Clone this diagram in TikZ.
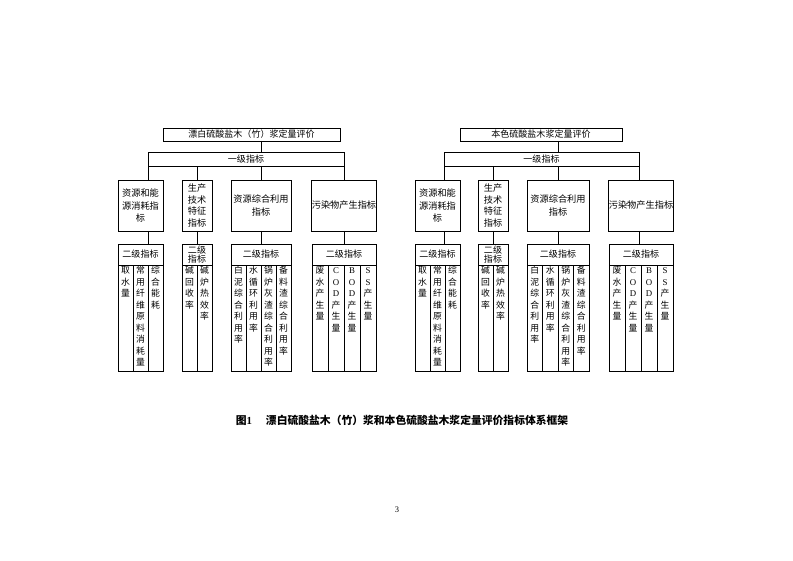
\documentclass[tikz,border=0pt]{standalone}
\usepackage{fontspec}
\setmainfont{Liberation Serif}
\newfontfamily\cjk{Noto Sans CJK SC}
\newfontfamily\lat{Liberation Serif}
\usepackage{tikz}
\usetikzlibrary{positioning}

\newdimen\pxu \pxu=0.03745cm
% one column of the second level, text stacked from the top
\newcommand{\vcol}[1]{\parbox[t][106\pxu][t]{12\pxu}{\centering\vspace*{0.5\pxu}\rule{0pt}{8.6pt}#1}}

\begin{document}
\begin{tikzpicture}[%
  x=0.03745cm, y=-0.03745cm,
  every node/.style={align=center, inner sep=0pt, outer sep=0pt},
  titlebox/.style={draw, line width=0.8pt, minimum height=13\pxu, font=\cjk\fontsize{9.6}{11}\selectfont},
  lvbox/.style={draw, line width=0.8pt, minimum height=14\pxu, font=\cjk\fontsize{9.6}{11}\selectfont},
  catbox/.style={draw, line width=0.8pt, minimum height=51\pxu, font=\cjk\fontsize{9.8}{13.2}\selectfont},
  hdbox/.style={draw, line width=0.8pt, minimum height=21\pxu, font=\cjk\fontsize{9.6}{10}\selectfont},
  colbox/.style={draw, line width=0.8pt, anchor=north, font=\cjk\fontsize{9.4}{12.3}\selectfont},
  link/.style={line width=0.8pt}
]
\useasboundingbox (0,0) rectangle (793,561);

% ---------- left: bleached pulp
\node[titlebox, minimum width=177\pxu] (t1) at (251.5,134.5) {漂白硫酸盐木（竹）浆定量评价};
\node[lvbox, minimum width=196\pxu] (l1) at (246,159) {一级指标};

\node[catbox, minimum width=45\pxu] (a11) at (140.5,205.5) {资源和能\\源消耗指\\标};
\node[catbox, minimum width=30\pxu, font=\cjk\fontsize{9.8}{12.4}\selectfont] (a12) at (197,205.5) {生产\\技术\\特征\\指标};
\node[catbox, minimum width=60\pxu] (a13) at (261,205.5) {资源综合利用\\指标};
\node[catbox, minimum width=64\pxu] (a14) at (344,205.5) {污染物产生指标};

\node[hdbox, minimum width=45\pxu] (b11) at (140.5,254.5) {二级指标};
\node[hdbox, minimum width=30\pxu, font=\cjk\fontsize{9.6}{10.4}\selectfont] (b12) at (197,254.5) {二级\\指标};
\node[hdbox, minimum width=60\pxu] (b13) at (261,254.5) {二级指标};
\node[hdbox, minimum width=64\pxu] (b14) at (344,254.5) {二级指标};

\node[colbox, minimum width=15\pxu] (c111) at (125.5,265) {\vcol{取\\水\\量}};
\node[colbox, minimum width=15\pxu] (c112) at (140.5,265) {\vcol{常\\用\\纤\\维\\原\\料\\消\\耗\\量}};
\node[colbox, minimum width=15\pxu] (c113) at (155.5,265) {\vcol{综\\合\\能\\耗}};
\node[colbox, minimum width=15\pxu] (c121) at (189.5,265) {\vcol{碱\\回\\收\\率}};
\node[colbox, minimum width=15\pxu] (c122) at (204.5,265) {\vcol{碱\\炉\\热\\效\\率}};
\node[colbox, minimum width=15\pxu] (c131) at (238.5,265) {\vcol{白\\泥\\综\\合\\利\\用\\率}};
\node[colbox, minimum width=15\pxu] (c132) at (253.5,265) {\vcol{水\\循\\环\\利\\用\\率}};
\node[colbox, minimum width=15\pxu] (c133) at (268.5,265) {\vcol{锅\\炉\\灰\\渣\\综\\合\\利\\用\\率}};
\node[colbox, minimum width=15\pxu] (c134) at (283.5,265) {\vcol{备\\料\\渣\\综\\合\\利\\用\\率}};
\node[colbox, minimum width=16\pxu] (c141) at (320,265) {\vcol{废\\水\\产\\生\\量}};
\node[colbox, minimum width=16\pxu] (c142) at (336,265) {\vcol{{\lat C}\\{\lat O}\\{\lat D}\\产\\生\\量}};
\node[colbox, minimum width=16\pxu] (c143) at (352,265) {\vcol{{\lat B}\\{\lat O}\\{\lat D}\\产\\生\\量}};
\node[colbox, minimum width=16\pxu] (c144) at (368,265) {\vcol{{\lat S}\\{\lat S}\\产\\生\\量}};

\draw[link] (t1.south -| a13.north) -- (l1.north -| a13.north);
\draw[link] (l1.south west) -- (l1.south west |- a11.north);
\draw[link] (a12.north) -- (a12.north |- l1.south);
\draw[link] (a13.north) -- (a13.north |- l1.south);
\draw[link] (l1.south east) -- (l1.south east |- a14.north);
\draw[link] (a11.south -| l1.west) -- (b11.north -| l1.west);
\draw[link] (a12.south) -- (b12.north);
\draw[link] (a13.south) -- (b13.north);
\draw[link] (a14.south -| l1.east) -- (b14.north -| l1.east);

% ---------- right: unbleached pulp
\node[titlebox, minimum width=162\pxu] (t2) at (541,134.5) {本色硫酸盐木浆定量评价};
\node[lvbox, minimum width=195\pxu] (l2) at (541.5,159) {一级指标};

\node[catbox, minimum width=45\pxu] (a21) at (437.5,205.5) {资源和能\\源消耗指\\标};
\node[catbox, minimum width=30\pxu, font=\cjk\fontsize{9.8}{12.4}\selectfont] (a22) at (493,205.5) {生产\\技术\\特征\\指标};
\node[catbox, minimum width=62\pxu] (a23) at (558,205.5) {资源综合利用\\指标};
\node[catbox, minimum width=64\pxu] (a24) at (641,205.5) {污染物产生指标};

\node[hdbox, minimum width=45\pxu] (b21) at (437.5,254.5) {二级指标};
\node[hdbox, minimum width=30\pxu, font=\cjk\fontsize{9.6}{10.4}\selectfont] (b22) at (493,254.5) {二级\\指标};
\node[hdbox, minimum width=62\pxu] (b23) at (558,254.5) {二级指标};
\node[hdbox, minimum width=64\pxu] (b24) at (641,254.5) {二级指标};

\node[colbox, minimum width=15\pxu] (c211) at (422.5,265) {\vcol{取\\水\\量}};
\node[colbox, minimum width=15\pxu] (c212) at (437.5,265) {\vcol{常\\用\\纤\\维\\原\\料\\消\\耗\\量}};
\node[colbox, minimum width=15\pxu] (c213) at (452.5,265) {\vcol{综\\合\\能\\耗}};
\node[colbox, minimum width=15\pxu] (c221) at (485.5,265) {\vcol{碱\\回\\收\\率}};
\node[colbox, minimum width=15\pxu] (c222) at (500.5,265) {\vcol{碱\\炉\\热\\效\\率}};
\node[colbox, minimum width=15.5\pxu] (c231) at (534.75,265) {\vcol{白\\泥\\综\\合\\利\\用\\率}};
\node[colbox, minimum width=15.5\pxu] (c232) at (550.25,265) {\vcol{水\\循\\环\\利\\用\\率}};
\node[colbox, minimum width=15.5\pxu] (c233) at (565.75,265) {\vcol{锅\\炉\\灰\\渣\\综\\合\\利\\用\\率}};
\node[colbox, minimum width=15.5\pxu] (c234) at (581.25,265) {\vcol{备\\料\\渣\\综\\合\\利\\用\\率}};
\node[colbox, minimum width=16\pxu] (c241) at (617,265) {\vcol{废\\水\\产\\生\\量}};
\node[colbox, minimum width=16\pxu] (c242) at (633,265) {\vcol{{\lat C}\\{\lat O}\\{\lat D}\\产\\生\\量}};
\node[colbox, minimum width=16\pxu] (c243) at (649,265) {\vcol{{\lat B}\\{\lat O}\\{\lat D}\\产\\生\\量}};
\node[colbox, minimum width=16\pxu] (c244) at (665,265) {\vcol{{\lat S}\\{\lat S}\\产\\生\\量}};

\draw[link] (t2.south -| a23.north) -- (l2.north -| a23.north);
\draw[link] (l2.south west) -- (l2.south west |- a21.north);
\draw[link] (a22.north) -- (a22.north |- l2.south);
\draw[link] (a23.north) -- (a23.north |- l2.south);
\draw[link] (l2.south east) -- (l2.south east |- a24.north);
\draw[link] (a21.south -| l2.west) -- (b21.north -| l2.west);
\draw[link] (a22.south) -- (b22.north);
\draw[link] (a23.south) -- (b23.north);
\draw[link] (a24.south -| l2.east) -- (b24.north -| l2.east);

% caption and page number
\node[font=\cjk\bfseries\fontsize{11.5}{13}\selectfont] (cap) at (402,420) {图{\lat\bfseries 1}\hspace{1.3em}漂白硫酸盐木（竹）浆和本色硫酸盐木浆定量评价指标体系框架};
\node[font=\lat\fontsize{9}{10}\selectfont] (pg) at (397,510) {3};
\end{tikzpicture}
\end{document}
